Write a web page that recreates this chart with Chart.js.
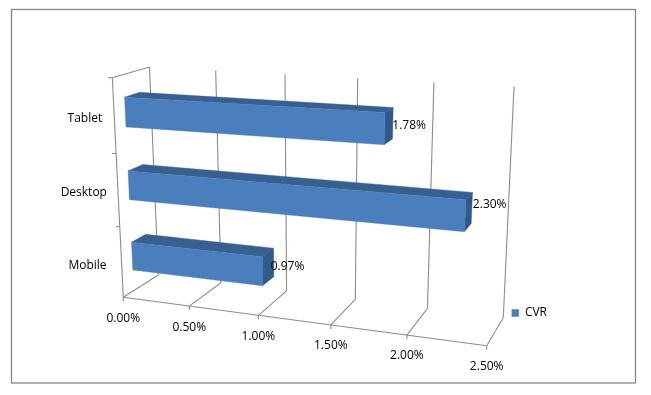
<!DOCTYPE html>
<html>
<head>
<meta charset="utf-8">
<title>CVR</title>
<script src="https://cdn.jsdelivr.net/npm/chart.js@4"></script>
<style>
  html, body { margin: 0; padding: 0; background: #fff; }
  canvas { display: block; }
</style>
</head>
<body>
<canvas id="myChart" width="651" height="395"></canvas>
<script>
const categories = ['Tablet', 'Desktop', 'Mobile'];
const cvrValues = [1.78, 2.30, 0.97];
const valueTickLabels = ['0.00%', '0.50%', '1.00%', '1.50%', '2.00%', '2.50%'];
const seriesName = 'CVR';

const FONT = '12px "Open Sans"';
const LINE = '#8c8c8c';

/* small hand nudges for the labels, the original places them a bit unevenly */
const categoryNudge = [[1, 2.5], [2, 2], [-2, 3]];
const dataLabelNudge = [[-0.5, 2], [1, -3], [-3, 4]];

/* corners of the 3D box in the picture */
const box = {
  fbl: [123.3, 297.3], fbr: [486.7, 345.7],
  bbl: [158.3, 275], bbr: [503.3, 317.7],
  ftl: [112.3, 77.7], ftr: [501, 97],
  btl: [149.5, 67], btr: [514, 86.5]
};

function mix(a, b, t) {
  return [a[0] + (b[0] - a[0]) * t, a[1] + (b[1] - a[1]) * t];
}

/* u = along value axis, d = depth (0 front, 1 back), h = height, all 0..1 */
function project(u, d, h) {
  const s = u * 0.8877 / (1 - 0.1123 * u);
  const hh = h / (1 + 0.053 * (1 - h));
  const bottom = mix(mix(box.fbl, box.fbr, s), mix(box.bbl, box.bbr, s), d);
  const top = mix(mix(box.ftl, box.ftr, s), mix(box.btl, box.btr, s), d);
  return mix(bottom, top, hh);
}

function line(c, a, b) {
  c.beginPath();
  c.moveTo(a[0], a[1]);
  c.lineTo(b[0], b[1]);
  c.stroke();
}

function face(c, pts, color) {
  c.fillStyle = color;
  c.strokeStyle = color;
  c.lineWidth = 0.4;
  c.beginPath();
  pts.forEach((p, i) => i ? c.lineTo(p[0], p[1]) : c.moveTo(p[0], p[1]));
  c.closePath();
  c.fill();
  c.stroke();
}

const bars3d = {
  id: 'bars3d',
  beforeDraw(chart) {
    const c = chart.ctx;
    c.save();
    c.fillStyle = '#fff';
    c.fillRect(0, 0, chart.width, chart.height);
    c.strokeStyle = '#868686';
    c.lineWidth = 1.3;
    c.strokeRect(11.5, 9.5, 624, 373.5);
    c.restore();
  },
  beforeDatasetsDraw(chart) {
    const c = chart.ctx;
    const xs = chart.scales.x;
    const ys = chart.scales.y;
    const uOf = px => (px - xs.left) / xs.width;
    const hOf = px => (ys.bottom - px) / ys.height;

    c.save();
    c.strokeStyle = LINE;
    c.lineWidth = 1.1;

    /* grid on the back wall and floor, value ticks and labels */
    c.font = FONT;
    c.fillStyle = '#000';
    c.textAlign = 'center';
    c.textBaseline = 'middle';
    xs.ticks.forEach((t) => {
      const u = uOf(xs.getPixelForValue(t.value));
      const front = project(u, 0, 0);
      line(c, project(u, 1, 1), project(u, 1, 0));
      line(c, project(u, 1, 0), front);
      line(c, front, [front[0], front[1] + 4]);
      c.fillText(t.label, front[0], front[1] + 21);
    });
    line(c, project(0, 0, 0), project(1, 0, 0));

    /* left wall */
    line(c, project(0, 0, 0), project(0, 0, 1));
    line(c, project(0, 0, 1), project(0, 1, 1));
    const band = ys.height / categories.length;
    c.textAlign = 'right';
    categories.forEach((name, i) => {
      const py = ys.getPixelForValue(i);
      const tick = project(0, 0, hOf(py - band / 2));
      line(c, tick, [tick[0] - 4, tick[1]]);
      const mid = project(0, 0, hOf(py));
      c.fillText(name, mid[0] - 13 + categoryNudge[i][0], mid[1] + categoryNudge[i][1]);
    });

    /* bars, back ones first */
    const bars = chart.getDatasetMeta(0).data;
    bars.forEach((bar, i) => {
      const u1 = uOf(bar.x);
      const h0 = hOf(bar.y + bar.height / 2);
      const h1 = hOf(bar.y - bar.height / 2);
      const d0 = 0.3, d1 = 0.7;
      face(c, [project(0, d0, h1), project(0, d1, h1), project(u1, d1, h1), project(u1, d0, h1)], '#375f90');
      face(c, [project(u1, d0, h0), project(u1, d0, h1), project(u1, d1, h1), project(u1, d1, h0)], '#2e5a8d');
      face(c, [project(0, d0, h0), project(0, d0, h1), project(u1, d0, h1), project(u1, d0, h0)], '#4a7ebd');
    });

    /* data labels */
    c.fillStyle = '#000';
    c.textAlign = 'left';
    bars.forEach((bar, i) => {
      const p = project(uOf(bar.x), 0.7, hOf(bar.y));
      c.fillText(cvrValues[i].toFixed(2) + '%', p[0] + dataLabelNudge[i][0], p[1] + dataLabelNudge[i][1]);
    });
    c.restore();
    return false;
  }
};

new Chart(document.getElementById('myChart'), {
  type: 'bar',
  data: {
    labels: categories,
    datasets: [{
      label: seriesName,
      data: cvrValues,
      backgroundColor: '#4a7ebd',
      borderWidth: 0,
      categoryPercentage: 1,
      barPercentage: 0.4
    }]
  },
  options: {
    indexAxis: 'y',
    responsive: false,
    animation: false,
    layout: { padding: { right: 94, bottom: 76 } },
    scales: {
      x: {
        display: false,
        min: 0,
        max: 2.5,
        ticks: { stepSize: 0.5, callback: (v, i) => valueTickLabels[i] }
      },
      y: { display: false }
    },
    plugins: {
      tooltip: { enabled: false },
      legend: {
        position: 'right',
        align: 'end',
        labels: { boxWidth: 7.5, boxHeight: 7.5, padding: 0, color: '#000', font: { family: 'Open Sans', size: 12 } }
      }
    }
  },
  plugins: [bars3d]
});
</script>
</body>
</html>
